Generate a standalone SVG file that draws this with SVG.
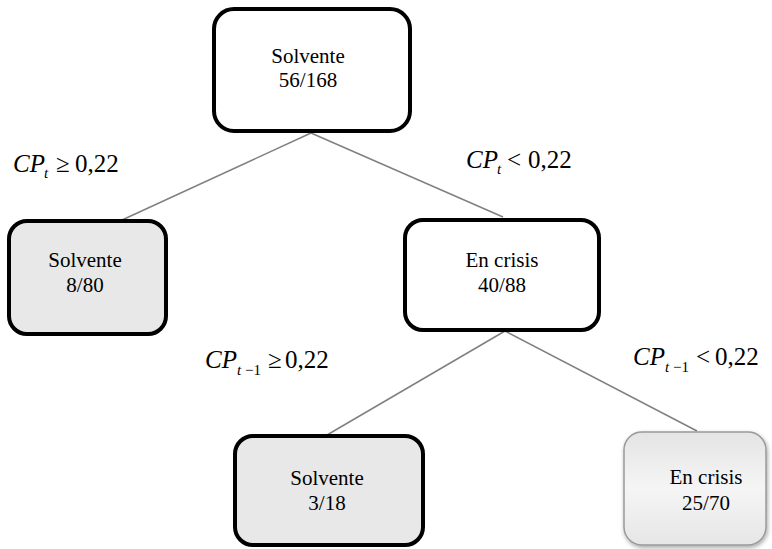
<svg xmlns="http://www.w3.org/2000/svg" width="772" height="549" viewBox="0 0 772 549">
<defs>
<linearGradient id="g1" x1="0" y1="0" x2="0" y2="1">
<stop offset="0" stop-color="#e4e4e4"/><stop offset="0.5" stop-color="#f5f5f5"/><stop offset="1" stop-color="#e6e6e6"/>
</linearGradient>
<filter id="sh" x="-20%" y="-20%" width="140%" height="140%">
<feDropShadow dx="1" dy="2" stdDeviation="2" flood-color="#000" flood-opacity="0.35"/>
</filter>
</defs>
<style>
.box{stroke:#000;stroke-width:4}
text{font-family:'Liberation Serif','Times New Roman','DejaVu Serif',serif;fill:#000}
.t{font-size:21px;text-anchor:middle}
.m{font-size:25px}
.i{font-style:italic}
.s{font-size:15px}
.e{stroke:#808080;stroke-width:1.5;fill:none}
</style>
<rect width="772" height="549" fill="#fff"/>
<g id="connectors">
<line class="e" x1="311" y1="133" x2="122" y2="220"/>
<line class="e" x1="311" y1="133" x2="503" y2="217"/>
<line class="e" x1="505" y1="331" x2="327" y2="435"/>
<line class="e" x1="505" y1="331" x2="697" y2="431"/>
</g>
<g id="root">
<rect class="box" x="214" y="9" width="196" height="122" rx="20" fill="#fff"/>
<text class="t" x="308" y="63">Solvente</text>
<text class="t" x="308" y="87">56/168</text>
</g>
<g id="left">
<rect class="box" x="9" y="221" width="157" height="113" rx="18" fill="#e8e8e8"/>
<text class="t" x="85" y="267">Solvente</text>
<text class="t" x="85" y="292">8/80</text>
</g>
<g id="mid">
<rect class="box" x="405" y="220" width="194" height="110" rx="18" fill="#fff"/>
<text class="t" x="502" y="267">En crisis</text>
<text class="t" x="502" y="292">40/88</text>
</g>
<g id="bl">
<rect class="box" x="235" y="436" width="188" height="109" rx="18" fill="#e8e8e8"/>
<text class="t" x="327" y="485">Solvente</text>
<text class="t" x="327" y="510">3/18</text>
</g>
<g id="br">
<rect x="624" y="432" width="142" height="113" rx="18" fill="url(#g1)" stroke="#999" stroke-width="1.5" filter="url(#sh)"/>
<text class="t" x="706" y="484">En crisis</text>
<text class="t" x="706" y="510">25/70</text>
</g>
<g id="labels">
<text class="m" y="172"><tspan class="i" x="13">CP</tspan><tspan class="s i" x="44" y="178">t</tspan><tspan x="56" y="172">≥</tspan><tspan x="75">0,22</tspan></text>
<text class="m" y="168"><tspan class="i" x="466">CP</tspan><tspan class="s i" x="497" y="174">t</tspan><tspan x="507" y="168">&lt;</tspan><tspan x="528">0,22</tspan></text>
<text class="m" y="368"><tspan class="i" x="205">CP</tspan><tspan class="s" x="237" y="375"><tspan class="i">t</tspan> −1</tspan><tspan x="268" y="368">≥</tspan><tspan x="285">0,22</tspan></text>
<text class="m" y="365"><tspan class="i" x="633">CP</tspan><tspan class="s" x="665" y="372"><tspan class="i">t</tspan> −1</tspan><tspan x="696" y="365">&lt;</tspan><tspan x="715">0,22</tspan></text>
</g>
</svg>
